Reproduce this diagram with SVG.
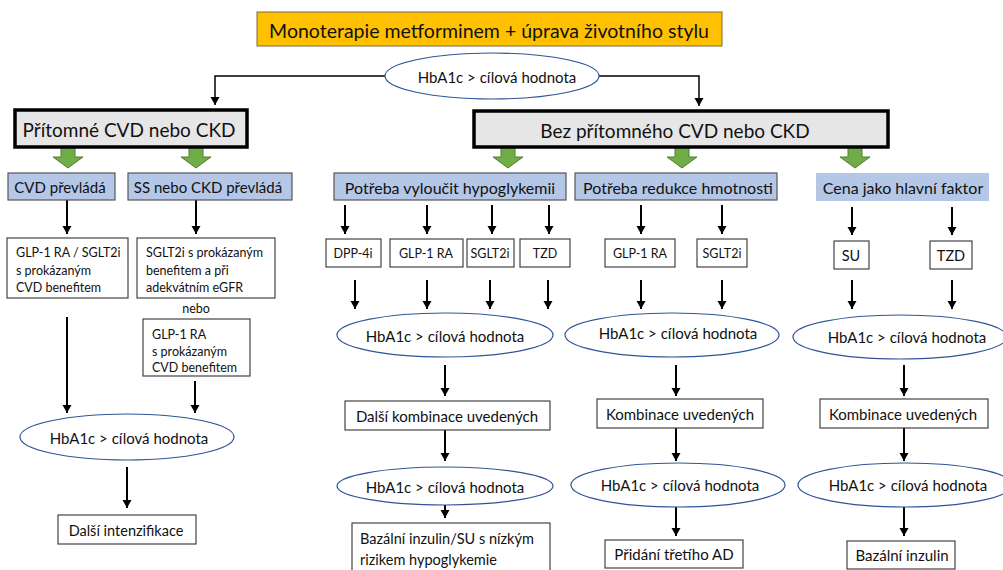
<svg xmlns="http://www.w3.org/2000/svg" width="1003" height="570" viewBox="0 0 1003 570">
<defs>
<style>
text{font-family:"Lato","Liberation Sans",sans-serif;fill:#111;dominant-baseline:central}
.c{text-anchor:middle}
.wb{fill:#fff;stroke:#444;stroke-width:1.2}
.bb{fill:#B4C7E7;stroke:#555;stroke-width:1.2}
.gb{fill:#E7E6E6;stroke:#000;stroke-width:3.5}
.el{fill:#fff;stroke:#2F5597;stroke-width:1.2}
.ga{fill:#70AD47;stroke:#507E32;stroke-width:1}
.ln{fill:none;stroke:#000;stroke-width:2;marker-end:url(#ah)}
.ln1{fill:none;stroke:#000;stroke-width:1.5;marker-end:url(#ah)}
.f15{font-size:15px}
.f16{font-size:16px}
.f13{font-size:12.5px}
.f14{font-size:14.5px}
.f19{font-size:19px}
</style>
<marker id="ah" markerUnits="userSpaceOnUse" markerWidth="10" markerHeight="10" refX="8" refY="4.5" orient="auto">
<path d="M0,0 L8,4.5 L0,9 z" fill="#000"/>
</marker>
</defs>
<rect width="1003" height="570" fill="#fff"/>

<g id="connectors">
<path class="ln1" d="M385,76 H215 V105"/>
<path class="ln1" d="M599,76 H699 V106"/>
<polygon class="ga" points="61,147 75,147 75,157 83,157 68,168 53,157 61,157"/>
<polygon class="ga" points="189,147 203,147 203,157 211,157 196,168 181,157 189,157"/>
<polygon class="ga" points="501,147 515,147 515,157 523,157 508,168 493,157 501,157"/>
<polygon class="ga" points="675,147 689,147 689,157 697,157 682,168 667,157 675,157"/>
<polygon class="ga" points="848,147 862,147 862,157 870,157 855,168 840,157 848,157"/>
<path class="ln" d="M67,200 V234"/>
<path class="ln" d="M196,200 V234"/>
<path class="ln" d="M67,317 V413"/>
<path class="ln" d="M195,381 V413"/>
<path class="ln" d="M127,467 V508"/>
<path class="ln" d="M345,205 V234"/>
<path class="ln" d="M427,205 V234"/>
<path class="ln" d="M492,205 V234"/>
<path class="ln" d="M549,205 V234"/>
<path class="ln" d="M355,280 V309"/>
<path class="ln" d="M427,280 V309"/>
<path class="ln" d="M490,280 V309"/>
<path class="ln" d="M548,280 V309"/>
<path class="ln" d="M445,365 V396"/>
<path class="ln" d="M445,430 V461"/>
<path class="ln" d="M445,505 V518"/>
<path class="ln" d="M641,205 V234"/>
<path class="ln" d="M722,205 V234"/>
<path class="ln" d="M641,280 V309"/>
<path class="ln" d="M722,280 V309"/>
<path class="ln" d="M676,365 V396"/>
<path class="ln" d="M676,428 V461"/>
<path class="ln" d="M676,507 V536"/>
<path class="ln" d="M852,207 V235"/>
<path class="ln" d="M952,207 V235"/>
<path class="ln" d="M852,280 V309"/>
<path class="ln" d="M952,280 V309"/>
<path class="ln" d="M904,365 V396"/>
<path class="ln" d="M904,428 V461"/>
<path class="ln" d="M904,507 V536"/>
</g>

<g id="n-top">
<rect x="257" y="12" width="465" height="34" fill="#FFC000" stroke="#7a6a3a" stroke-width="1"/>
<text class="c" x="489" y="30" font-size="19.5">Monoterapie metforminem + úprava životního stylu</text>
</g>
<g id="n-hba-top">
<ellipse class="el" cx="492" cy="76" rx="107" ry="23"/>
<text class="c f15" x="497" y="77">HbA1c &gt; cílová hodnota</text>
</g>

<g id="n-present">
<rect class="gb" x="15" y="110" width="232" height="37"/>
<text class="c f19" x="129" y="129">Přítomné CVD nebo CKD</text>
</g>
<g id="n-absent">
<rect class="gb" x="474" y="111" width="414" height="36"/>
<text class="c f19" x="675" y="130">Bez přítomného CVD nebo CKD</text>
</g>

<g id="n-cvd">
<rect class="bb" x="8" y="173" width="107" height="27"/>
<text class="c f15" x="60" y="187">CVD převládá</text>
</g>
<g id="n-ss">
<rect class="bb" x="128" y="173" width="164" height="27"/>
<text class="c f15" x="208" y="187">SS nebo CKD převládá</text>
</g>
<g id="n-hypo">
<rect class="bb" x="334" y="173" width="232" height="27"/>
<text class="c f16" x="450" y="187">Potřeba vyloučit hypoglykemii</text>
</g>
<g id="n-weight">
<rect class="bb" x="575" y="173" width="202" height="27"/>
<text class="c f16" x="678" y="187">Potřeba redukce hmotnosti</text>
</g>
<g id="n-cost">
<rect x="816" y="173" width="173" height="28" fill="#B4C7E7"/>
<text class="c f16" x="903" y="187">Cena jako hlavní faktor</text>
</g>

<g id="n-glp-sglt">
<rect class="wb" x="7" y="238" width="121" height="60"/>
<text class="f13" x="16" y="252">GLP-1 RA / SGLT2i</text>
<text class="f13" x="16" y="270">s prokázaným</text>
<text class="f13" x="16" y="287">CVD benefitem</text>
</g>
<g id="n-sglt-egfr">
<rect class="wb" x="137" y="238" width="138" height="60"/>
<text class="f13" x="146" y="252">SGLT2i s prokázaným</text>
<text class="f13" x="146" y="270">benefitem a při</text>
<text class="f13" x="146" y="287">adekvátním eGFR</text>
</g>
<g id="n-nebo">
<text class="c f13" x="196" y="308">nebo</text>
</g>
<g id="n-glp-cvd">
<rect class="wb" x="143" y="319" width="107" height="57"/>
<text class="f13" x="152" y="334">GLP-1 RA</text>
<text class="f13" x="152" y="351">s prokázaným</text>
<text class="f13" x="152" y="367">CVD benefitem</text>
</g>
<g id="n-hba-l1">
<ellipse class="el" cx="127" cy="437" rx="107" ry="23"/>
<text class="c f15" x="129" y="438">HbA1c &gt; cílová hodnota</text>
</g>
<g id="n-intenz">
<rect class="wb" x="58" y="515" width="138" height="29"/>
<text class="c f14" x="126" y="530">Další intenzifikace</text>
</g>

<g id="n-dpp">
<rect class="wb" x="326" y="239" width="55" height="28"/>
<text class="c f13" x="353" y="253">DPP-4i</text>
</g>
<g id="n-glp-m1">
<rect class="wb" x="390" y="239" width="73" height="28"/>
<text class="c f13" x="426" y="253">GLP-1 RA</text>
</g>
<g id="n-sglt-m1">
<rect class="wb" x="467" y="239" width="47" height="28"/>
<text class="c f13" x="490" y="253">SGLT2i</text>
</g>
<g id="n-tzd-m1">
<rect class="wb" x="520" y="239" width="50" height="28"/>
<text class="c f13" x="545" y="253">TZD</text>
</g>
<g id="n-hba-m1a">
<ellipse class="el" cx="445" cy="335" rx="108" ry="22"/>
<text class="c f15" x="445" y="336">HbA1c &gt; cílová hodnota</text>
</g>
<g id="n-comb-m1">
<rect class="wb" x="345" y="401" width="205" height="29"/>
<text class="c f15" x="447" y="416">Další kombinace uvedených</text>
</g>
<g id="n-hba-m1b">
<ellipse class="el" cx="445" cy="486" rx="108" ry="19"/>
<text class="c f15" x="445" y="487">HbA1c &gt; cílová hodnota</text>
</g>
<g id="n-basal-su">
<rect class="wb" x="352" y="523" width="198" height="55"/>
<text class="f14" x="360" y="538">Bazální inzulin/SU s nízkým</text>
<text class="f14" x="360" y="559">rizikem hypoglykemie</text>
</g>

<g id="n-glp-m2">
<rect class="wb" x="605" y="239" width="70" height="28"/>
<text class="c f13" x="640" y="253">GLP-1 RA</text>
</g>
<g id="n-sglt-m2">
<rect class="wb" x="697" y="239" width="50" height="28"/>
<text class="c f13" x="722" y="253">SGLT2i</text>
</g>
<g id="n-hba-m2a">
<ellipse class="el" cx="672" cy="335" rx="107" ry="22"/>
<text class="c f15" x="678" y="333">HbA1c &gt; cílová hodnota</text>
</g>
<g id="n-comb-m2">
<rect class="wb" x="597" y="399" width="166" height="29"/>
<text class="c f15" x="680" y="414">Kombinace uvedených</text>
</g>
<g id="n-hba-m2b">
<ellipse class="el" cx="678" cy="485" rx="107" ry="22"/>
<text class="c f15" x="680" y="485">HbA1c &gt; cílová hodnota</text>
</g>
<g id="n-third">
<rect class="wb" x="605" y="540" width="138" height="28"/>
<text class="c f15" x="674" y="554">Přidání třetího AD</text>
</g>

<g id="n-su">
<rect class="wb" x="834" y="241" width="35" height="28"/>
<text class="c f14" x="851" y="255">SU</text>
</g>
<g id="n-tzd-r">
<rect class="wb" x="930" y="241" width="42" height="28"/>
<text class="c f14" x="951" y="255">TZD</text>
</g>
<g id="n-hba-ra">
<ellipse class="el" cx="900" cy="337" rx="107" ry="22"/>
<text class="c f15" x="907" y="337">HbA1c &gt; cílová hodnota</text>
</g>
<g id="n-comb-r">
<rect class="wb" x="820" y="399" width="168" height="29"/>
<text class="c f15" x="903" y="414">Kombinace uvedených</text>
</g>
<g id="n-hba-rb">
<ellipse class="el" cx="905" cy="485" rx="107" ry="22"/>
<text class="c f15" x="908" y="485">HbA1c &gt; cílová hodnota</text>
</g>
<g id="n-basal">
<rect class="wb" x="847" y="541" width="108" height="28"/>
<text class="c f15" x="902" y="555">Bazální inzulin</text>
</g>
</svg>
